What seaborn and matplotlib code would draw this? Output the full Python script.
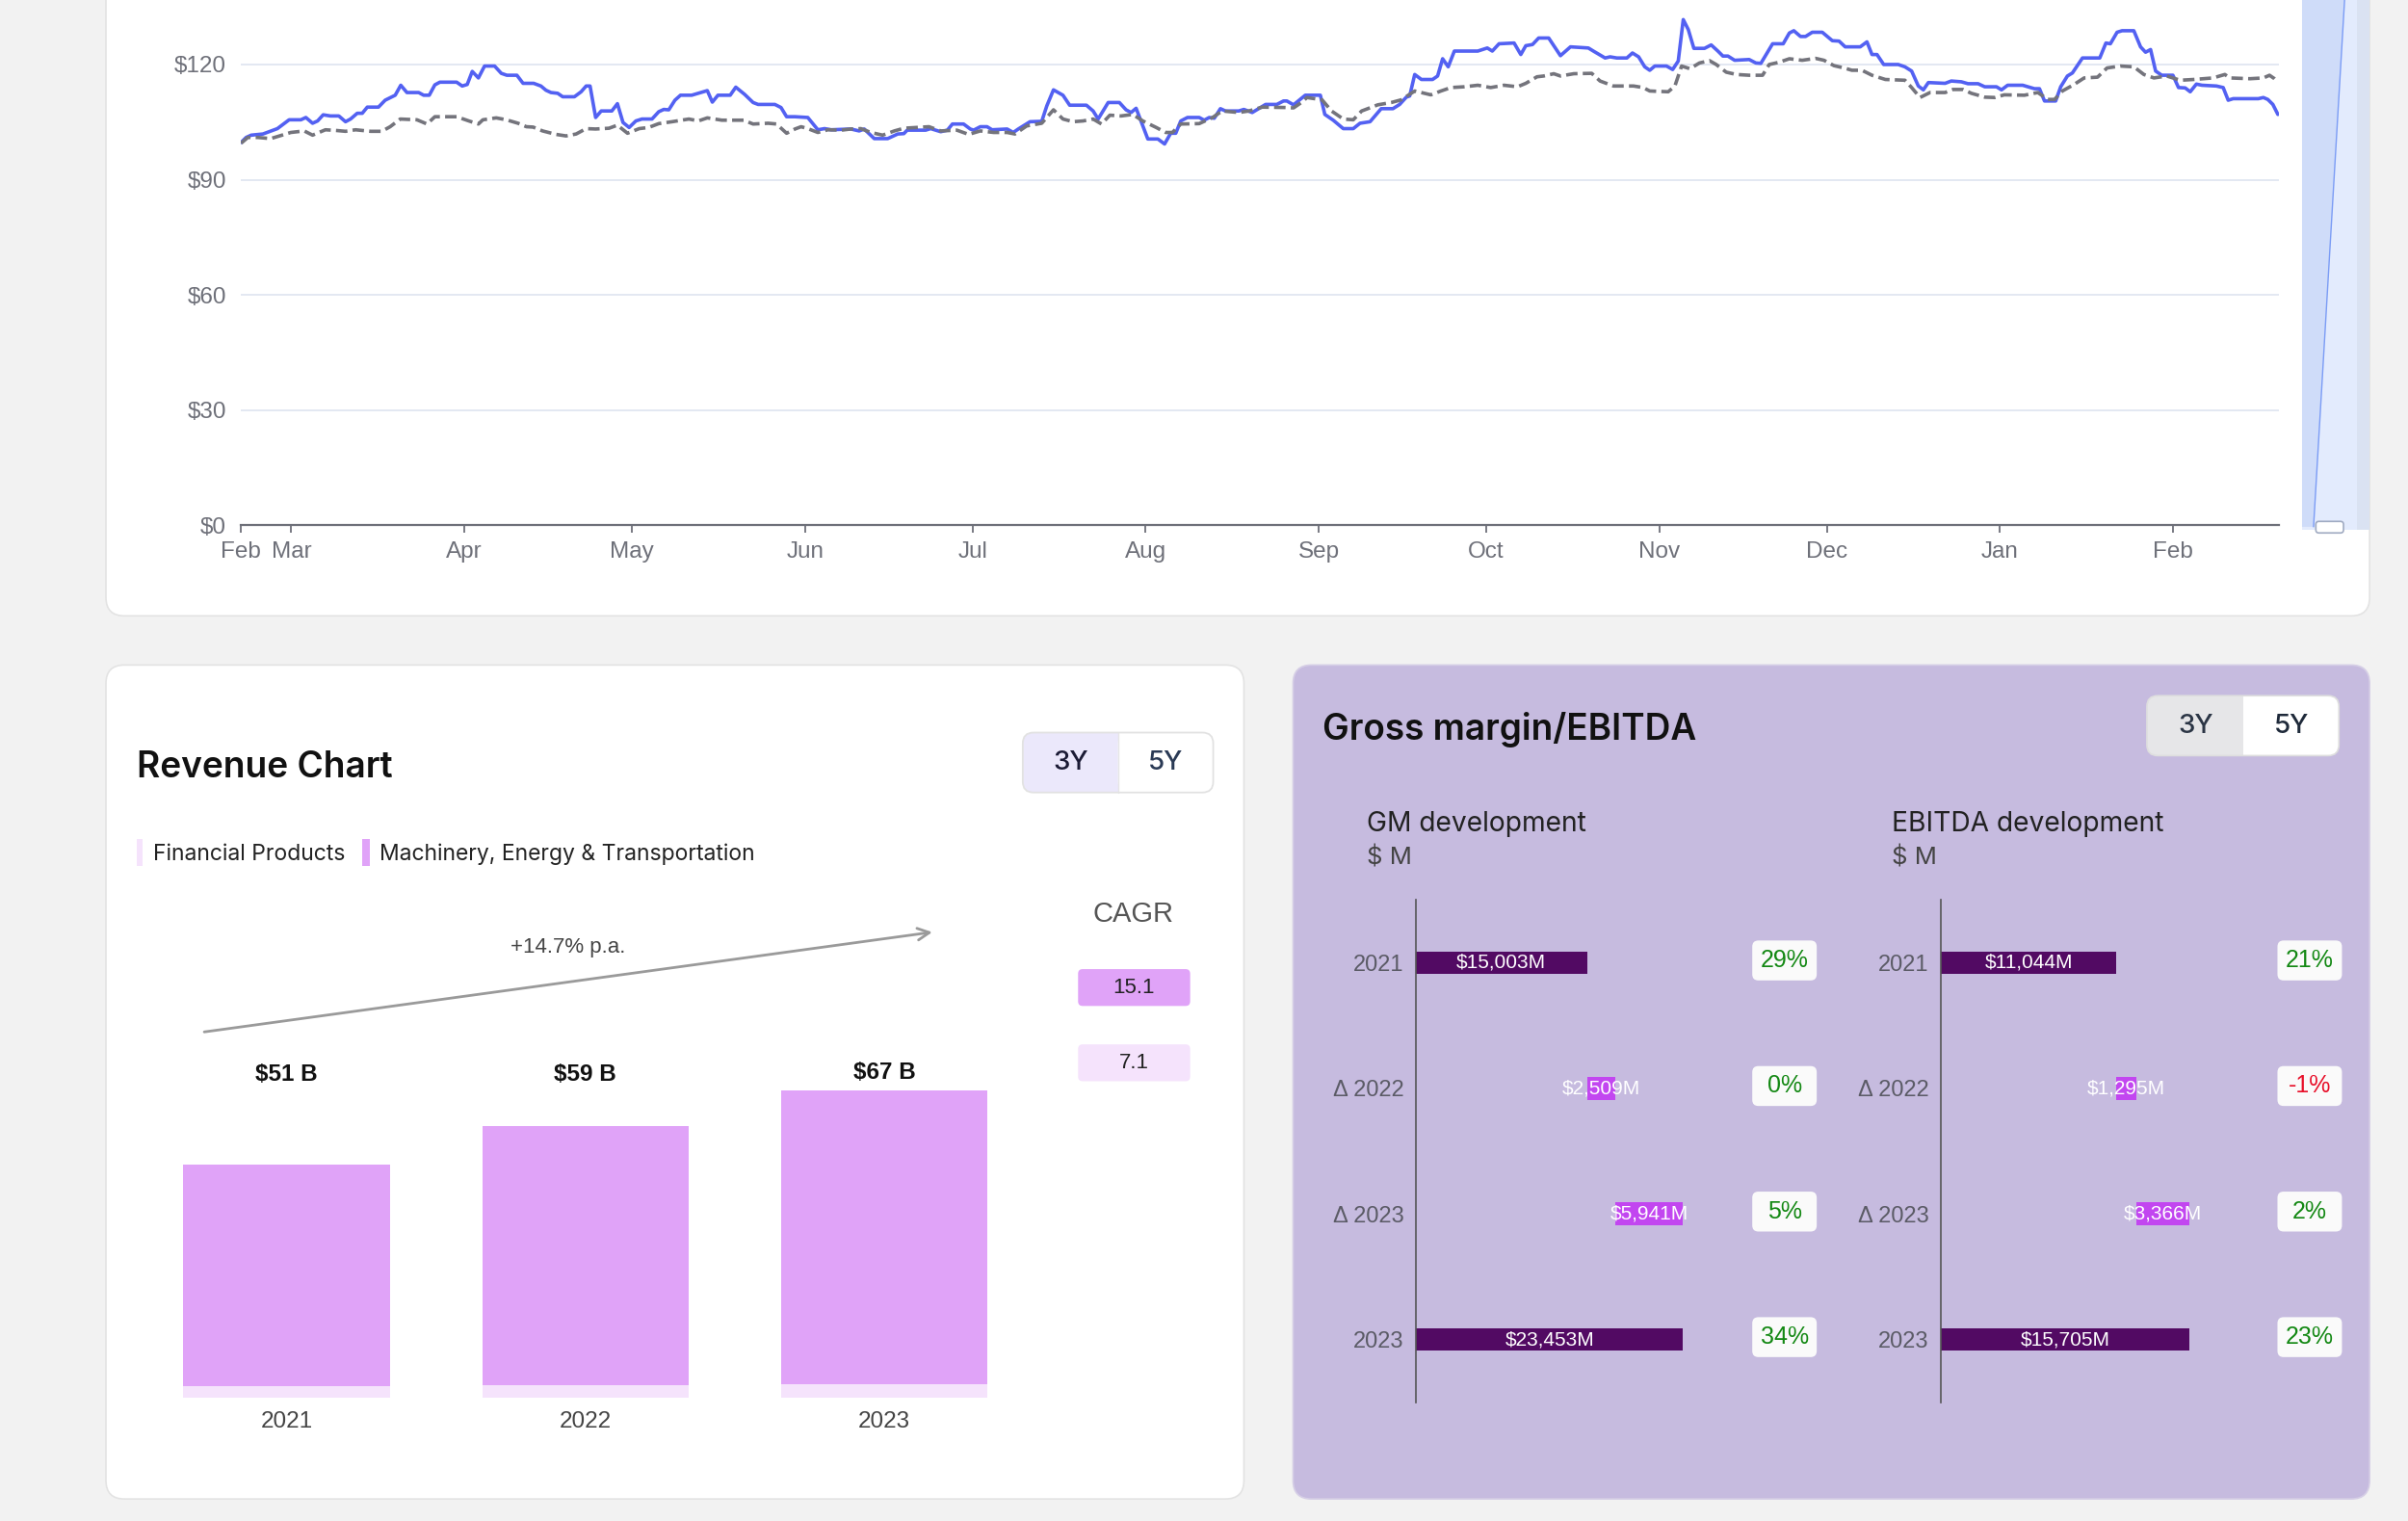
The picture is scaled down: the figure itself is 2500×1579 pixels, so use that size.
import numpy as np
import pandas as pd
import matplotlib
matplotlib.use("Agg")
import matplotlib.pyplot as plt
import seaborn as sns
from matplotlib.patches import FancyBboxPatch, Rectangle, Polygon

# ---------------- data ----------------
start_date = "2023-02-20"

price_days = [0, 0.9, 1.8, 3.9, 6.5, 8.6, 10.7, 11.6, 12.8, 13.7, 14.7, 16.0, 17.5, 18.7, 19.6,
              20.8, 21.7, 22.6, 24.6, 25.8, 27.6, 28.6, 29.7, 31.8, 32.7, 33.7, 34.7, 35.6, 38.6, 39.6,
              40.5, 41.4, 42.5, 43.6, 45.4, 46.6, 47.6, 49.4, 50.5, 52.4, 53.7, 54.6, 55.5, 56.7, 57.6,
              59.7, 60.9, 61.8, 62.5, 63.5, 64.5, 66.4, 67.4, 68.4, 69.5, 70.7, 71.8, 73.6, 74.8, 75.7,
              76.6, 77.7, 78.7, 80.7, 83.5, 84.4, 85.4, 87.6, 88.6, 90.2,
              91.7, 92.6, 95.6, 96.7, 97.7, 99.2, 101.5, 103.3, 104.5, 105.7, 109.2, 110.7, 111.6, 113.4, 115.8,
              117.6, 118.7, 119.3, 122.6, 123.5, 125.3, 126.5, 127.4, 129.4, 130.6, 131.2, 132.4, 133.6, 134.5, 137.2,
              138.3, 139.2, 141.3, 143.4, 144.3, 145.5, 147.2, 148.4, 151.4, 152.6, 153.5, 155.3, 157.3, 158.5, 159.4,
              160.3, 162.4, 164.2, 165.4, 166.5, 167.4, 168.3, 169.5, 171.6, 172.5, 173.4, 174.3, 175.4, 176.3, 178.7,
              179.6, 181.1,
              183.5, 185.5, 186.7, 187.3, 188.5, 190.6, 193.3, 194.1, 195.6, 197.4, 199.2, 200.4, 202.2, 204.2, 206.3,
              207.5, 208.7, 209.3, 210.2, 211.4, 213.4, 214.3, 215.2, 216.2, 217.3, 221.5, 223.2, 224.1, 225.3, 228.0,
              229.2, 230.1, 231.3, 232.4, 234.2, 236.3, 238.1, 241.3, 242.2, 244.3, 245.2, 246.4, 248.2, 249.2, 250.3,
              251.4, 252.3, 253.2, 255.3, 256.4, 257.4, 258.3, 259.2, 260.2, 262.1, 263.3, 264.5, 265.4, 266.3, 267.5,
              270.1, 271.3, 272.2,
              274.3, 276.2, 277.3, 278.1, 279.3, 280.2, 281.4, 283.2, 285.0, 286.2, 287.3, 290.0, 291.2, 292.1, 293.0,
              294.2, 296.8, 298.0, 299.2, 300.4, 301.3, 302.2, 305.2, 306.3, 308.1, 309.3, 311.1, 312.3, 314.4, 315.3,
              316.4, 319.1, 321.2, 322.1, 323.0, 325.0, 325.9, 327.1, 328.0, 329.8, 332.9, 334.0, 334.8, 336.0, 336.9,
              339.0, 340.2, 341.1, 342.0, 342.9, 344.0, 346.0, 347.0, 348.2, 349.1, 350.2, 351.2, 353.8, 355.0, 355.9,
              356.8, 361.3, 362.2, 363.0, 363.9, 364.8]
price_vals = [99.7, 101.0, 101.6, 101.9, 103.3, 105.6, 105.6, 106.2, 104.7, 105.3, 106.9, 106.6, 106.6, 105.1, 105.8,
              107.3, 107.3, 108.9, 108.9, 110.7, 112.0, 114.6, 112.7, 112.7, 112.0, 112.0, 114.7, 115.4, 115.4, 114.4,
              114.8, 118.2, 116.5, 119.6, 119.6, 117.7, 117.2, 117.2, 115.1, 115.1, 114.4, 113.3, 112.7, 112.5, 111.6,
              111.6, 112.9, 114.4, 114.4, 106.2, 107.9, 107.9, 109.8, 104.9, 103.6, 105.3, 105.8, 105.8, 107.7, 108.3,
              108.2, 110.7, 112.0, 112.0, 113.2, 110.2, 112.0, 112.0, 114.1, 112.2,
              110.1, 109.6, 109.6, 108.8, 106.4, 106.4, 106.2, 103.0, 103.3, 103.0, 103.2, 102.7, 103.2, 100.7, 100.7,
              101.9, 102.0, 102.9, 102.9, 103.3, 102.5, 102.9, 104.5, 104.5, 103.2, 102.9, 103.8, 103.8, 103.0, 103.2,
              102.3, 103.2, 105.1, 105.2, 109.2, 113.4, 112.0, 109.4, 109.4, 107.9, 105.8, 110.1, 110.1, 108.2, 107.5,
              108.6, 100.6, 100.6, 99.3, 102.1, 102.1, 105.3, 106.2, 106.2, 105.5, 106.2, 106.0, 108.5, 107.9, 107.9,
              108.3, 107.5,
              109.6, 109.6, 110.5, 110.5, 109.5, 112.0, 112.0, 107.0, 105.5, 103.3, 103.3, 104.7, 105.1, 108.5, 108.5,
              109.6, 111.5, 111.8, 117.4, 116.1, 116.1, 117.0, 121.5, 119.4, 123.5, 123.5, 124.3, 123.5, 125.4, 125.6,
              122.6, 124.9, 125.2, 126.9, 126.9, 122.3, 124.6, 124.3, 123.5, 121.7, 122.0, 121.7, 121.7, 123.0, 122.0,
              119.4, 118.5, 119.6, 119.6, 118.7, 120.9, 131.7, 129.1, 124.2, 124.2, 125.1, 123.5, 122.2, 122.2, 121.1,
              121.3, 120.4, 120.3,
              125.4, 125.4, 128.2, 128.8, 127.3, 127.3, 128.4, 128.4, 126.2, 126.1, 124.6, 124.6, 125.9, 122.6, 122.6,
              120.0, 120.0, 119.4, 118.3, 114.4, 113.4, 115.3, 115.1, 115.7, 115.5, 115.0, 115.0, 114.2, 114.2, 113.4,
              114.6, 114.6, 113.7, 113.7, 110.5, 110.5, 114.2, 117.0, 117.8, 121.7, 121.7, 125.6, 125.4, 128.4, 128.8,
              128.8, 124.6, 123.2, 123.9, 118.3, 117.2, 117.2, 114.0, 113.9, 112.9, 114.9, 114.6, 114.4, 114.0, 110.7,
              111.1, 111.1, 111.4, 110.9, 109.6, 107.0]

bench_days = [0, 1.2, 3.0, 5.3, 8.9, 11.3, 12.8, 15.1, 17.2, 18.7, 20.5, 23.2, 25.2, 26.7, 28.5,
              31.5, 33.3, 34.7, 38.6, 41.0, 42.5, 43.3, 45.7, 47.5, 49.6, 51.1, 52.3, 54.0, 56.4, 58.2,
              60.0, 61.8, 63.5, 65.9, 67.4, 69.2, 71.3, 73.0, 74.8, 77.2, 80.2, 81.9, 83.5, 86.1, 90.0,
              91.7, 94.4, 95.9, 97.7, 99.2, 100.3, 101.5, 103.3, 105.1, 107.5, 109.2, 111.0, 112.8, 114.9, 117.0,
              118.7, 121.1, 123.2, 125.3, 128.2, 130.3, 132.4, 134.8, 137.2, 138.6, 140.7, 143.4, 145.5, 147.2, 149.0,
              150.8, 152.6, 154.1, 155.6, 157.6, 159.7, 161.5, 163.9, 165.6, 166.8, 168.3, 171.6, 174.0, 175.7, 178.7,
              180.5,
              182.9, 187.0, 188.5, 190.0, 190.9, 193.6, 195.3, 197.4, 199.2, 200.7, 203.6, 206.0, 207.8, 210.2, 213.1,
              214.9, 216.7, 219.1, 221.5, 223.8, 226.2, 228.6, 230.1, 232.1, 233.3, 235.1, 236.3, 238.7, 241.9, 243.4,
              245.8, 249.4, 251.1, 252.3, 255.6, 256.8, 258.0, 259.5, 261.2, 263.0, 264.2, 266.0, 267.8, 270.1, 272.5,
              273.7, 275.5, 277.3, 279.6, 282.0, 283.5, 285.3, 287.1, 288.5, 290.3, 292.1, 294.5, 298.0, 299.2, 300.7,
              302.5, 305.2, 306.6, 308.4, 309.9, 312.3, 314.1, 315.8, 319.4, 321.8, 323.6, 324.8, 326.2, 328.3, 330.1,
              332.5, 334.2, 336.6, 339.0, 340.8, 342.6, 344.9, 347.3, 349.7, 353.2, 355.3, 356.2, 359.8, 362.2, 363.3,
              364.2, 364.8]
bench_vals = [99.5, 101.0, 101.0, 100.7, 102.3, 102.7, 101.6, 103.0, 102.8, 102.6, 103.0, 102.6, 102.6, 103.8, 105.8,
              105.6, 104.5, 106.4, 106.4, 105.2, 104.5, 105.6, 106.1, 105.6, 104.7, 103.8, 103.7, 102.7, 101.8, 101.4,
              101.9, 103.3, 103.2, 103.4, 104.2, 102.1, 103.3, 103.6, 104.6, 105.1, 105.8, 105.3, 106.1, 105.5, 105.5,
              104.5, 104.7, 104.5, 102.1, 103.2, 103.8, 103.3, 102.3, 103.0, 102.9, 103.2, 103.3, 102.3, 101.6, 102.7,
              103.4, 103.6, 103.8, 102.7, 102.9, 101.8, 102.7, 102.3, 102.3, 101.9, 104.0, 104.7, 108.2, 105.8, 105.1,
              105.3, 105.8, 104.5, 106.8, 106.6, 107.0, 105.3, 103.6, 102.3, 102.3, 104.5, 104.6, 106.2, 107.9, 107.5,
              107.9,
              108.9, 108.8, 108.7, 110.2, 111.4, 110.8, 107.9, 105.8, 105.6, 107.9, 109.5, 110.1, 110.8, 113.1, 112.1,
              113.1, 114.0, 114.2, 114.6, 114.0, 114.6, 114.2, 115.1, 116.8, 117.0, 117.6, 117.0, 117.6, 117.7, 115.7,
              114.4, 114.4, 114.0, 113.1, 112.9, 114.4, 119.6, 118.9, 120.4, 121.0, 120.0, 118.0, 117.4, 117.2, 117.2,
              120.0, 120.6, 121.5, 121.1, 121.6, 121.1, 119.7, 119.1, 118.5, 118.5, 117.2, 116.1, 115.9, 114.0, 111.4,
              112.7, 112.7, 113.5, 113.5, 112.5, 111.5, 111.4, 112.1, 112.0, 112.7, 110.9, 110.9, 113.1, 114.8, 116.5,
              116.7, 119.1, 119.6, 119.4, 117.4, 116.5, 117.0, 115.9, 116.1, 116.5, 117.4, 116.5, 116.3, 116.5, 117.2,
              116.3, 115.4]
price_ticks = [0, 30, 60, 90, 120]

rev_years = ["2021", "2022", "2023"]
rev_fp = [2.6, 2.7, 3.0]          # Financial Products ($B)
rev_met = [48.4, 56.7, 64.1]      # Machinery, Energy & Transportation ($B)
rev_growth_label = "+14.7% p.a."
cagr_labels = ["15.1", "7.1"]

wf_labels = ["2021", "Δ 2022", "Δ 2023", "2023"]
gm_vals = [15003, 2509, 5941, 23453]
gm_pct = [29, 0, 5, 34]
eb_vals = [11044, 1295, 3366, 15705]
eb_pct = [21, -1, 2, 23]

assert len(price_days) == len(price_vals)
assert len(bench_days) == len(bench_vals)

# ---------------- styling ----------------
sns.set_theme(style="white")
plt.rcParams['font.family'] = ['Liberation Sans', 'DejaVu Sans']
INTER = ['Inter', 'DejaVu Sans']

S = 2500 / 1568
DW, DH = 1568.0, 1579 / S
fig = plt.figure(figsize=(25, 15.79), dpi=100, facecolor='#f2f2f2')


def rect(x0, y0, x1, y1):
    return [x0 / DW, 1 - y1 / DH, (x1 - x0) / DW, (y1 - y0) / DH]


bg = fig.add_axes([0, 0, 1, 1], zorder=0)
bg.set_xlim(0, DW)
bg.set_ylim(DH, 0)
bg.axis('off')


def rbox(x0, y0, x1, y1, r, fc, ec='none', lw=0, z=1):
    bg.add_patch(FancyBboxPatch((x0, y0), x1 - x0, y1 - y0,
                                boxstyle=f"round,pad=0,rounding_size={r}",
                                fc=fc, ec=ec, lw=lw, zorder=z))


# cards
rbox(69, -40, 1543, 401, 12, 'white', '#e3e3e3', 1.2)
rbox(69, 433, 810, 976, 12, 'white', '#e3e3e3', 1.2)
rbox(842, 433, 1543, 976, 12, '#c6bbdf', '#d6cfe6', 1.2)

# navigator strip at right of the price chart
bg.add_patch(Rectangle((1499, -5), 44, 350, fc='#dae2f2', ec='none', zorder=2))
bg.add_patch(Rectangle((1499, -5), 36, 350, fc='#e3ebfd', ec='none', zorder=2))
bg.add_patch(Polygon([(1499, -5), (1527, -5), (1506.5, 343), (1499, 343)], closed=True,
                     fc='#cfdcf9', ec='none', zorder=2))
bg.plot([1506.5, 1527], [343, -5], color='#7b9cf5', lw=1, zorder=3)
rbox(1508, 339.5, 1526, 347, 2, 'white', '#a0abc2', 1.2, z=4)

# ---------------- price chart ----------------
ax = fig.add_axes(rect(157, 0, 1484, 342), zorder=2)
ax.set_facecolor('none')
t0 = pd.Timestamp(start_date)
price_df = pd.DataFrame({'date': t0 + pd.to_timedelta(price_days, unit='D'), 'value': price_vals})
bench_df = pd.DataFrame({'date': t0 + pd.to_timedelta(bench_days, unit='D'), 'value': bench_vals})
sns.lineplot(data=price_df, x='date', y='value', color='#5361f2', linewidth=2.6,
             estimator=None, ax=ax)
sns.lineplot(data=bench_df, x='date', y='value', color='#74747c', linewidth=2.6,
             linestyle=(0, (3.3, 1.5)), estimator=None, ax=ax)
ax.set_xlim(t0, t0 + pd.Timedelta(days=365))
ax.set_ylim(0, 136.8)
xt = [t0] + list(pd.date_range('2023-03-01', '2024-02-01', freq='MS'))
ax.set_xticks(xt)
ax.set_xticklabels([t.strftime('%b') for t in xt])
ax.set_yticks(price_ticks)
ax.set_yticklabels([f"${v}" for v in price_ticks])
ax.grid(axis='y', color='#e0e6f1', lw=1.3)
ax.grid(axis='x', visible=False)
ax.set_axisbelow(True)
for s in ['top', 'right', 'left']:
    ax.spines[s].set_visible(False)
ax.spines['bottom'].set_color('#6e7079')
ax.spines['bottom'].set_linewidth(1.6)
ax.set_xlabel('')
ax.set_ylabel('')
ax.tick_params(axis='y', length=0, pad=11, labelsize=17.5, labelcolor='#6e7079')
ax.tick_params(axis='x', length=6, width=1.3, color='#6e7079', pad=6, labelsize=17.5,
               labelcolor='#6e7079', direction='out', bottom=True)

# ---------------- revenue chart ----------------
bg.text(89, 505.9, "Revenue Chart", fontsize=26.7, family=INTER, fontweight='semibold',
        color='#111111', va='baseline', ha='left', zorder=5)
# 3Y / 5Y toggle
rbox(666, 477, 790, 516, 7, '#ebe8fb', 'none', 0, z=3)
rbox(728, 477, 790, 516, 7, 'white', 'none', 0, z=3)
bg.add_patch(Rectangle((728, 477), 10, 39, fc='white', ec='none', zorder=3))
bg.plot([728, 728], [477, 516], color='#e6e6e6', lw=1, zorder=4)
rbox(666, 477, 790, 516, 7, 'none', '#e2e2e2', 1.3, z=4)
bg.text(697, 497, "3Y", fontsize=20, family=INTER, fontweight='medium', color='#1b1b35',
        ha='center', va='center', zorder=5)
bg.text(759, 497, "5Y", fontsize=20, family=INTER, fontweight='medium', color='#2a3a55',
        ha='center', va='center', zorder=5)

# legend
fp_color, met_color = '#f5e3fc', '#e0a3f8'
bg.add_patch(Rectangle((89, 546), 4, 18, fc=fp_color, ec='none', zorder=3))
bg.text(100, 560.4, "Financial Products", fontsize=16.5, family=INTER, color='#222222',
        va='baseline', zorder=5)
bg.add_patch(Rectangle((236, 546), 5, 18, fc=met_color, ec='none', zorder=3))
bg.text(247, 560.4, "Machinery, Energy & Transportation", fontsize=16.5, family=INTER,
        color='#222222', va='baseline', zorder=5)

rax = fig.add_axes(rect(89.2, 560, 673.3, 910), zorder=2)
rax.set_facecolor('none')
totals = [m + f for m, f in zip(rev_met, rev_fp)]
sns.barplot(x=rev_years, y=totals, color=met_color, saturation=1, width=0.69, ax=rax,
            edgecolor='none', linewidth=0)
sns.barplot(x=rev_years, y=rev_fp, color=fp_color, saturation=1, width=0.69, ax=rax,
            edgecolor='none', linewidth=0)
rax.set_xlim(-0.5, 2.5)
rax.set_ylim(0, 117.45)
for i, t in enumerate(totals):
    rax.text(i, max(t, 66.6) + 3.9, f"${t:.0f} B", ha='center', va='center',
             fontsize=17.5, fontweight='bold', color='#111111')
rax.annotate('', xy=(2.16, 101.7), xytext=(-0.275, 79.9),
             arrowprops=dict(arrowstyle='->', color='#9a9a9a', lw=2.0, shrinkA=0, shrinkB=0,
                             mutation_scale=22),
             annotation_clip=False)
rax.text(0.942, 97.3, rev_growth_label, ha='center', va='baseline', fontsize=16, color='#444444')
for s in rax.spines.values():
    s.set_visible(False)
rax.set_yticks([])
rax.set_xlabel('')
rax.set_ylabel('')
rax.tick_params(axis='x', length=0, pad=10, labelsize=17.5, labelcolor='#444444')

# CAGR badges
bg.text(738, 595, "CAGR", fontsize=21, color='#555555', ha='center', va='center', zorder=5)
rbox(702, 631, 775, 655, 3, met_color, z=3)
rbox(702, 680, 775, 704, 3, fp_color, z=3)
bg.text(738.5, 643, cagr_labels[0], fontsize=16, color='#222222', ha='center', va='center', zorder=5)
bg.text(738.5, 692, cagr_labels[1], fontsize=16, color='#222222', ha='center', va='center', zorder=5)

# ---------------- gross margin / EBITDA ----------------
bg.text(861, 481.9, "Gross margin/EBITDA", fontsize=26.6, family=INTER, fontweight='semibold',
        color='#111111', va='baseline', zorder=5)
rbox(1398, 453, 1523, 492, 7, '#e6e6e8', z=3)
rbox(1461, 453, 1523, 492, 7, 'white', z=3)
bg.add_patch(Rectangle((1461, 453), 10, 39, fc='white', ec='none', zorder=3))
rbox(1398, 453, 1523, 492, 7, 'none', '#dedede', 1.2, z=4)
bg.text(1430, 473, "3Y", fontsize=20, family=INTER, fontweight='medium', color='#2b3545',
        ha='center', va='center', zorder=5)
bg.text(1492, 473, "5Y", fontsize=20, family=INTER, fontweight='medium', color='#1f2a3a',
        ha='center', va='center', zorder=5)

dark_c, delta_c = '#520a63', '#c246f0'


def waterfall(x0, title, vals, pcts, xmax):
    bg.text(x0 - 32, 541.3, title, fontsize=20.3, family=INTER, color='#222222',
            va='baseline', zorder=5)
    bg.text(x0 - 32, 563, "$ M", fontsize=18.5, family=INTER, color='#444444',
            va='baseline', zorder=5)
    wax = fig.add_axes(rect(x0, 586, x0 + 185.5, 913), zorder=2)
    wax.set_facecolor('none')
    lefts = [0, vals[0], vals[0] + vals[1], 0]
    colors = [dark_c, delta_c, delta_c, dark_c]
    ypos = np.arange(len(vals))
    wax.barh(ypos, vals, left=lefts, height=0.18, color=colors, edgecolor='none', linewidth=0)
    for i, (l, v) in enumerate(zip(lefts, vals)):
        wax.text(l + v / 2, i, f"${v:,}M", color='white', ha='center', va='center', fontsize=15)
    wax.set_ylim(3.5, -0.5)
    wax.set_xlim(0, xmax)
    wax.set_yticks(ypos)
    wax.set_yticklabels(wf_labels)
    wax.set_xticks([])
    for s in ['top', 'right', 'bottom']:
        wax.spines[s].set_visible(False)
    wax.spines['left'].set_color('#555555')
    wax.spines['left'].set_linewidth(1.2)
    wax.tick_params(axis='y', length=0, pad=9, labelsize=17, labelcolor='#5b5b66')
    for i, p in enumerate(pcts):
        yc = 586 + 81.75 * (i + 0.5) - 1.5
        bx = x0 + 219
        rbox(bx, yc - 13, bx + 42, yc + 13, 4, '#fafafa', z=3)
        bg.text(bx + 21, yc, f"{p}%", color='#e8102a' if p < 0 else '#138813', fontsize=18,
                ha='center', va='center', zorder=5)


waterfall(922, "GM development", gm_vals, gm_pct, 25000)
waterfall(1264, "EBITDA development", eb_vals, eb_pct, 18000)

fig.savefig('out.png', dpi=100, facecolor=fig.get_facecolor())
